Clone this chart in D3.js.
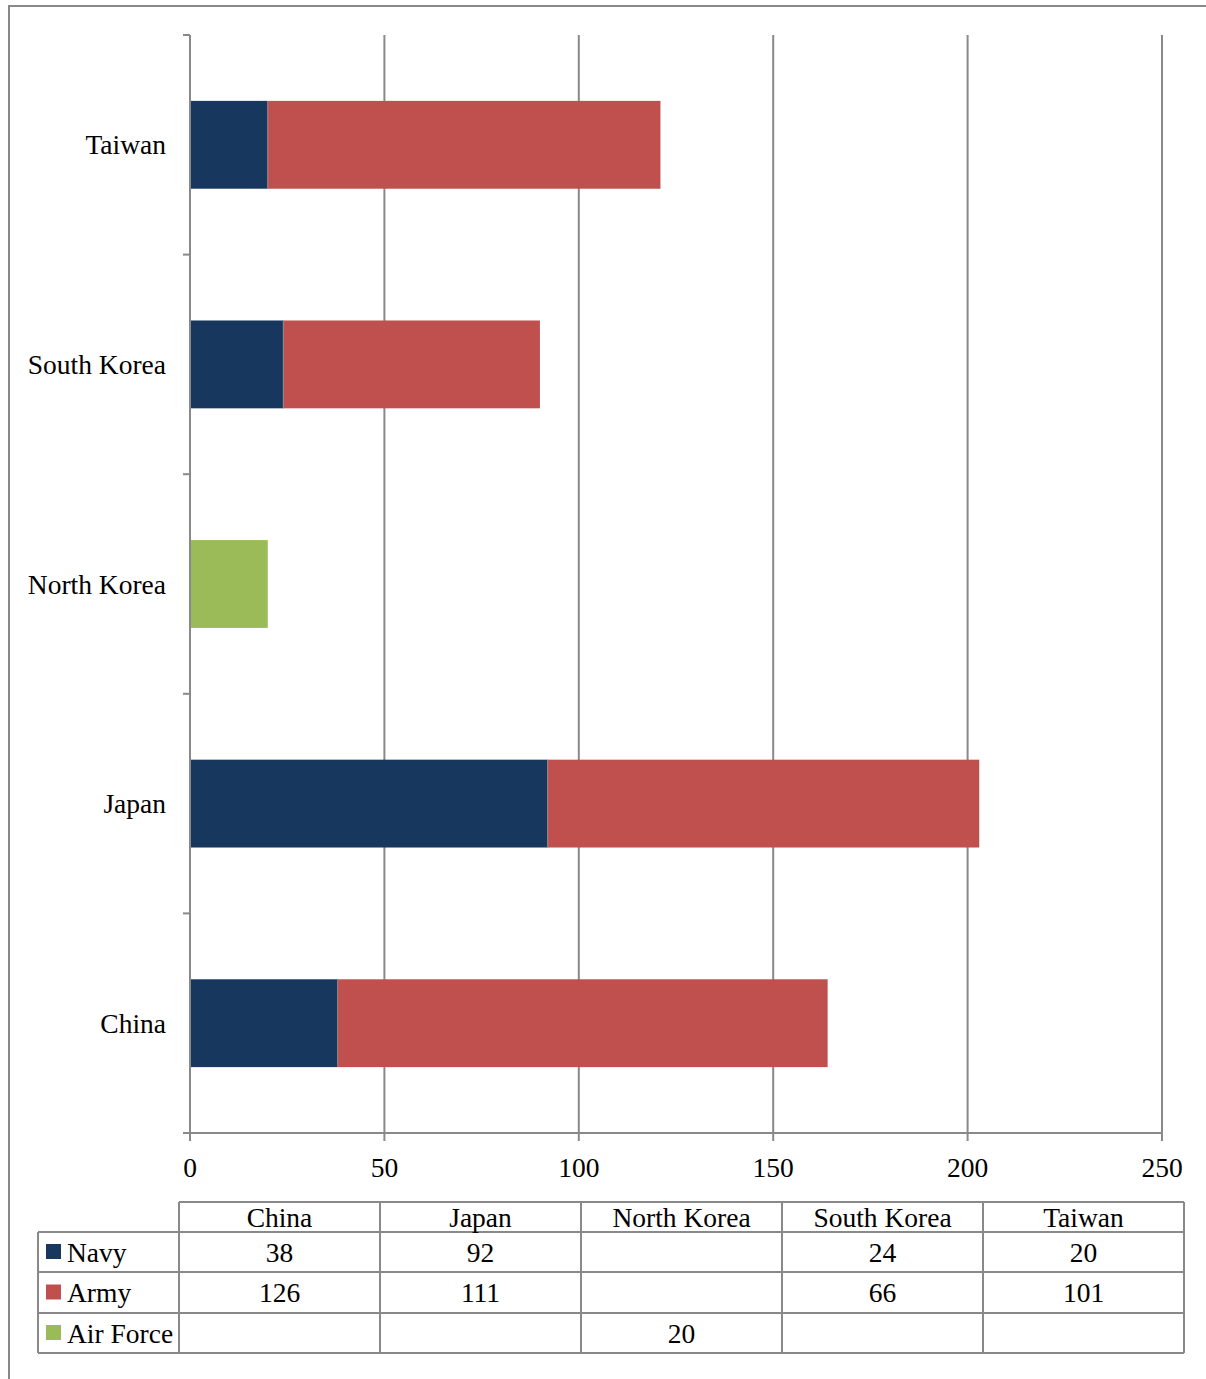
<!DOCTYPE html>
<html><head><meta charset="utf-8">
<script src="https://cdn.jsdelivr.net/npm/d3@7/dist/d3.min.js"></script>
<style>body{margin:0;background:#fff}svg{display:block}</style>
</head><body>
<svg id="c" width="1206" height="1379"></svg>
<script>
const categories = ["China","Japan","North Korea","South Korea","Taiwan"];
const seriesNames = ["Navy","Army","Air Force"];
const navy = [38,92,null,24,20];
const army = [126,111,null,66,101];
const airForce = [null,null,20,null,null];
const xTicks = [0,50,100,150,200,250];
const colors = ["#17375E","#C0504D","#9BBB59"];

const series = [navy, army, airForce];
const svg = d3.select("#c");
const font = "'Liberation Serif', serif";
const fs = 27.5;
const gray = "#898989";

// outer frame
svg.append("path").attr("d","M9,1379 V6 H1206").attr("fill","none").attr("stroke",gray).attr("stroke-width",2);

const x = d3.scaleLinear().domain([0,250]).range([190,1162]);
const y = d3.scaleBand().domain(categories.slice().reverse()).range([35,1133]).paddingInner(0.6).paddingOuter(0.3);

// gridlines
svg.append("g").selectAll("line").data(xTicks.slice(1)).join("line")
  .attr("x1",d=>x(d)).attr("x2",d=>x(d)).attr("y1",35).attr("y2",1133)
  .attr("stroke",gray).attr("stroke-width",2);

// bars
const stackData = categories.map((c,i)=>({cat:c, vals: series.map(s=>s[i]||0)}));
stackData.forEach(d=>{
  let acc=0;
  d.vals.forEach((v,si)=>{
    if(v>0){
      svg.append("rect").attr("x",x(acc)).attr("width",x(acc+v)-x(acc))
        .attr("y",y(d.cat)).attr("height",y.bandwidth()).attr("fill",colors[si]);
      acc+=v;
    }
  });
});
// thin separators between segments
stackData.forEach(d=>{
  let acc=0;
  d.vals.forEach((v,si)=>{ if(v>0){ acc+=v; if(si===0 && d.vals[1]>0){
    svg.append("line").attr("x1",x(acc)).attr("x2",x(acc)).attr("y1",y(d.cat)).attr("y2",y(d.cat)+y.bandwidth()).attr("stroke","#8a8a8a").attr("stroke-width",1);
  }}});
});

// y axis
const yAxisG = svg.append("g");
yAxisG.append("line").attr("x1",190).attr("x2",190).attr("y1",35).attr("y2",1133).attr("stroke",gray).attr("stroke-width",2);
const yTickPos = d3.range(categories.length+1).map(i=>35+i*y.step());
yAxisG.selectAll("line.t").data(yTickPos).join("line").attr("class","t")
  .attr("x1",183).attr("x2",190).attr("y1",d=>d).attr("y2",d=>d).attr("stroke",gray).attr("stroke-width",2);
yAxisG.selectAll("text").data(categories).join("text")
  .attr("x",166).attr("y",d=>y(d)+y.bandwidth()/2).attr("dy","0.35em")
  .attr("text-anchor","end").attr("font-family",font).attr("font-size",fs).attr("fill","#000").text(d=>d);

// x axis
const xAxisG = svg.append("g");
xAxisG.append("line").attr("x1",183).attr("x2",1162).attr("y1",1133).attr("y2",1133).attr("stroke",gray).attr("stroke-width",2);
xAxisG.selectAll("line.t").data(xTicks).join("line").attr("class","t")
  .attr("x1",d=>x(d)).attr("x2",d=>x(d)).attr("y1",1133).attr("y2",1141).attr("stroke",gray).attr("stroke-width",2);
xAxisG.selectAll("text").data(xTicks).join("text")
  .attr("x",d=>x(d)).attr("y",1167).attr("dy","0.35em").attr("text-anchor","middle")
  .attr("font-family",font).attr("font-size",fs).attr("fill","#000").text(d=>d);

// data table
const colX = d3.scaleBand().domain(categories).range([179,1184]);
const rowY = [1232,1272,1313,1353];
const tg = svg.append("g");
const ln = (x1,y1,x2,y2)=>tg.append("line").attr("x1",x1).attr("y1",y1).attr("x2",x2).attr("y2",y2).attr("stroke",gray).attr("stroke-width",2);
ln(179,1202,1184,1202);
rowY.forEach(ry=>ln(38,ry,1184,ry));
ln(38,1232,38,1353);
categories.forEach(c=>ln(colX(c),1202,colX(c),1353));
ln(1184,1202,1184,1353);
// headers
tg.selectAll("text.h").data(categories).join("text").attr("class","h")
  .attr("x",d=>colX(d)+colX.bandwidth()/2).attr("y",1217).attr("dy","0.35em").attr("text-anchor","middle")
  .attr("font-family",font).attr("font-size",fs).attr("fill","#000").text(d=>d);
series.forEach((s,si)=>{
  const cy = (rowY[si]+rowY[si+1])/2;
  tg.append("rect").attr("x",46).attr("y",cy-8).attr("width",15).attr("height",15).attr("fill",colors[si]);
  tg.append("text").attr("x",67).attr("y",cy).attr("dy","0.35em").attr("font-family",font).attr("font-size",fs).attr("fill","#000").text(seriesNames[si]);
  s.forEach((v,i)=>{ if(v!=null){
    tg.append("text").attr("x",colX(categories[i])+colX.bandwidth()/2).attr("y",cy).attr("dy","0.35em")
      .attr("text-anchor","middle").attr("font-family",font).attr("font-size",fs).attr("fill","#000").text(v);
  }});
});
</script>
</body></html>
